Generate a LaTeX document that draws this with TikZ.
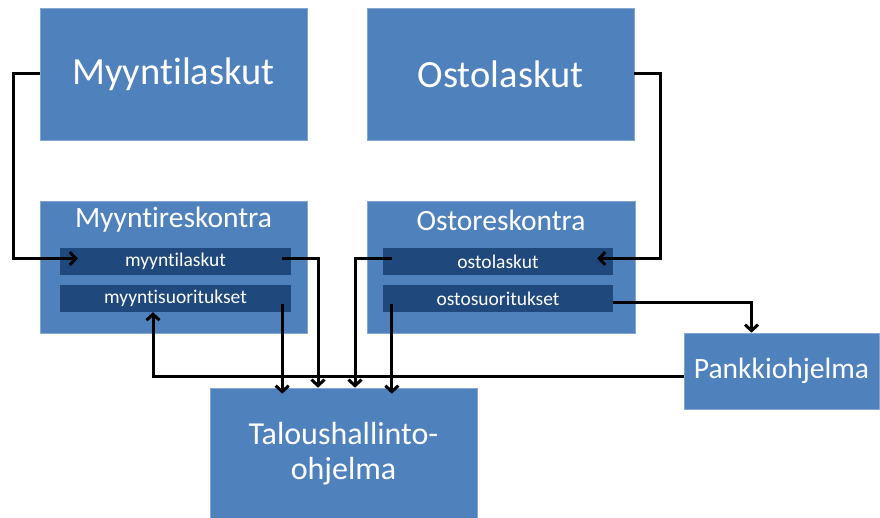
\documentclass[tikz,border=0pt]{standalone}
\usepackage{fontspec}
\setmainfont{Carlito}[Ligatures=NoCommon]
\usetikzlibrary{arrows.meta}
\definecolor{boxblue}{HTML}{4F81BD}
\definecolor{innerblue}{HTML}{1F497D}
\tikzset{
  bigbox/.style={fill=boxblue, draw=boxblue!70!white, line width=0.6pt, inner sep=0pt, text=white, align=center},
  innerbox/.style={fill=innerblue, inner sep=0pt, minimum width=231pt, minimum height=27pt, text=white, font=\fontsize{19.5}{22}\selectfont},
  titletext/.style={text=white, inner sep=0pt, font=\fontsize{29.5}{34}\selectfont},
  arr/.style={line width=3pt, -{Straight Barb[length=6pt,width=13pt]}},
  conn/.style={line width=3pt}
}
\begin{document}
\begin{tikzpicture}[x=1pt, y=-1pt]
\useasboundingbox (0,0) rectangle (880,518);
% top boxes
\node[bigbox, minimum width=267pt, minimum height=132pt, font=\fontsize{38.5}{44}\selectfont] (ml) at (173.5,74) {Myyntilaskut};
\node[bigbox, minimum width=267pt, minimum height=132pt, font=\fontsize{38.5}{44}\selectfont] (ol) at (500.5,74) {Ostolaskut};
% reskontra boxes
\node[bigbox, minimum width=267pt, minimum height=132pt] (mr) at (173.5,267) {};
\node[bigbox, minimum width=268pt, minimum height=132pt] (or) at (501,267) {};
\node[titletext] (mrt) at (173.5,220) {Myyntireskontra};
\node[titletext] (ort) at (501,220) {Ostoreskontra};
\node[innerbox] (iml) at (175.5,261.5) {myyntilaskut};
\node[innerbox] (ims) at (175.5,298.5) {myyntisuoritukset};
\node[innerbox, minimum width=230pt] (iol) at (498,261.5) {ostolaskut};
\node[innerbox, minimum width=230pt] (ios) at (498,298.5) {ostosuoritukset};
% bottom boxes
\node[bigbox, minimum width=195pt, minimum height=76pt, font=\fontsize{29.5}{34}\selectfont] (pank) at (781.5,371) {Pankkiohjelma};
\node[bigbox, minimum width=267pt, minimum height=132pt, font=\fontsize{32}{35}\selectfont] (tal) at (343.5,454) {Taloushallinto-\\ohjelma};
% connectors
\draw[arr] (ml.west) -- ++(-26,0) |- ([xshift=18pt,yshift=3pt]iml.west);
\draw[arr] (ol.east) -- ++(26,0) |- ([xshift=-16pt,yshift=3pt]iol.east);
\draw[arr] ([yshift=-5.5pt]pank.west) -| ([xshift=-22.5pt]ims.south);
\draw[arr] ([xshift=-9pt,yshift=3pt]iml.east) -| ([xshift=-25.5pt]tal.north);
\draw[arr] ([xshift=-9pt,yshift=-6pt]ims.east) -- ([xshift=-9pt,yshift=-6pt]ims.east |- tal.north);
\draw[arr] ([xshift=9pt,yshift=3pt]iol.west) -| ([xshift=11.5pt]tal.north);
\draw[arr] ([xshift=9pt,yshift=-6pt]ios.west) -- ([xshift=9pt,yshift=-6pt]ios.west |- tal.north);
\draw[arr] ([yshift=-4.5pt]ios.east) -| ([xshift=-30pt]pank.north);
\end{tikzpicture}
\end{document}
